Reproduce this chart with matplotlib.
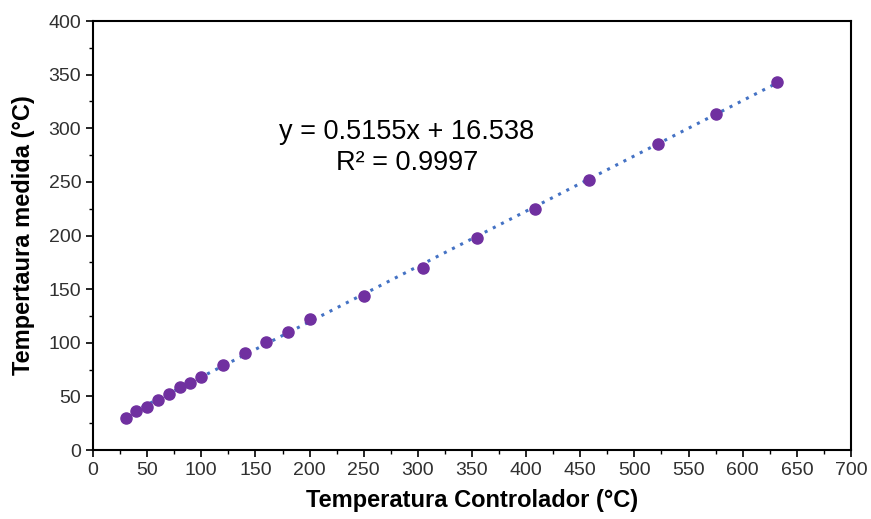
import numpy as np
import matplotlib.pyplot as plt
from matplotlib.ticker import MultipleLocator

plt.rcParams['font.family'] = ['Liberation Sans', 'DejaVu Sans']

# data
temp_ctrl = [30, 40, 50, 60, 70, 80, 90, 100, 120, 140, 160, 180, 200,
             250, 305, 355, 408, 458, 522, 575, 632]
temp_med = [30, 36, 40.5, 47, 52.5, 58.5, 62.5, 68.5, 79, 90.5, 100.5, 110.5, 122,
            144, 170, 197.5, 225, 251.5, 285.5, 313, 343.5]
slope, intercept = 0.5155, 16.538
r2 = 0.9997

fig = plt.figure(figsize=(8.71, 5.19), dpi=100)
ax = fig.add_axes([0.1068, 0.1329, 0.8702, 0.8266])

xfit = np.array([min(temp_ctrl), max(temp_ctrl)])
ax.plot(xfit, slope * xfit + intercept, linestyle=(0, (1, 2)), color='#4472C4',
        linewidth=2.2, zorder=1)
ax.plot(temp_ctrl, temp_med, 'o', color='#7030A0', markersize=8, zorder=2)

ax.text(290, 282, 'y = 0.5155x + 16.538\nR² = %.4f' % r2, ha='center', va='center',
        fontsize=19.5, linespacing=1.25)

ax.set_xlim(0, 700)
ax.set_ylim(0, 400)
ax.xaxis.set_major_locator(MultipleLocator(50))
ax.xaxis.set_minor_locator(MultipleLocator(25))
ax.yaxis.set_major_locator(MultipleLocator(50))
ax.yaxis.set_minor_locator(MultipleLocator(25))
ax.tick_params(which='major', direction='out', length=5, width=1.2, labelsize=14,
               labelcolor='#303030')
ax.tick_params(which='minor', direction='out', length=3, width=1)
for s in ax.spines.values():
    s.set_linewidth(1.5)

ax.set_xlabel('Temperatura Controlador (°C)', fontsize=17, fontweight='bold', labelpad=7)
ax.set_ylabel('Tempertaura medida (°C)', fontsize=17, fontweight='bold', labelpad=10)

plt.savefig('out.png', dpi=100)
